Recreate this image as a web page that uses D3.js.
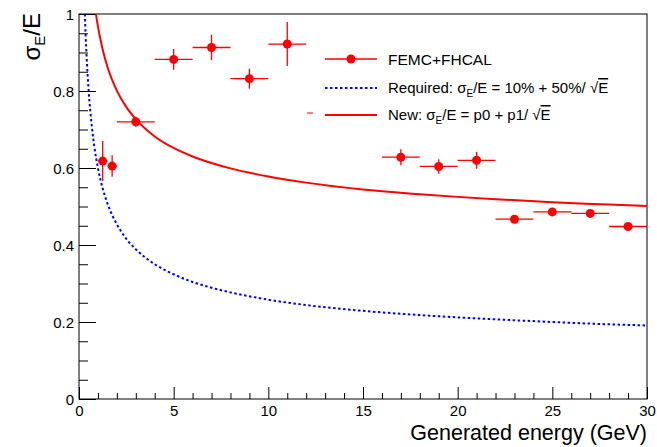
<!DOCTYPE html>
<html><head><meta charset="utf-8">
<script src="https://cdn.jsdelivr.net/npm/d3@7"></script>
<style>
body{margin:0;background:#fff;}
text{font-family:"Liberation Sans",Arial,Helvetica,sans-serif;fill:#000;}
</style></head>
<body>
<svg id="c" width="657" height="447"></svg>
<script>
// Data points: FEMC+FHCAL
const energy   = [1.25, 1.75, 3, 5, 7, 9, 11, 17, 19, 21, 23, 25, 27, 29];
const energyErr= [0.25, 0.25, 1, 1, 1, 1, 1, 1, 1, 1, 1, 1, 1, 1];
const resol    = [0.618, 0.605, 0.720, 0.882, 0.913, 0.832, 0.922, 0.628, 0.604, 0.620, 0.467, 0.486, 0.482, 0.448];
const resolErr = [0.052, 0.028, 0.013, 0.027, 0.033, 0.026, 0.057, 0.021, 0.019, 0.022, 0.007, 0.008, 0.007, 0.007];

// Required curve samples
const reqE   = [0.309, 0.35, 0.4, 0.5, 0.6, 0.7, 0.8, 1.0, 1.25, 1.5, 2, 2.5, 3, 4, 5, 6, 7, 8, 10, 12, 15, 18, 20, 22, 25, 28, 30];
const reqVal = [1.0, 0.945, 0.891, 0.807, 0.746, 0.698, 0.659, 0.600, 0.547, 0.508, 0.454, 0.416, 0.389, 0.350, 0.324, 0.304, 0.289, 0.277, 0.258, 0.244, 0.229, 0.218, 0.212, 0.207, 0.200, 0.194, 0.191];

// New fit curve samples
const fitE   = [0.9, 1.0, 1.25, 1.5, 2, 2.5, 3, 4, 5, 6, 7, 8, 10, 12, 15, 18, 20, 22, 25, 28, 30];
const fitVal = [0.999, 0.968, 0.908, 0.863, 0.801, 0.758, 0.727, 0.682, 0.652, 0.630, 0.613, 0.599, 0.578, 0.562, 0.544, 0.532, 0.525, 0.519, 0.511, 0.505, 0.501];

const xTicks = [0, 5, 10, 15, 20, 25, 30];
const yTicks = [0, 0.2, 0.4, 0.6, 0.8, 1];

const svg = d3.select("#c");
const L = 79, R = 647, T = 14, B = 399;
const x = d3.scaleLinear().domain([0, 30]).range([L, R]);
const y = d3.scaleLinear().domain([0, 1]).range([B, T]);

// frame
svg.append("rect").attr("x", L).attr("y", T).attr("width", R - L).attr("height", B - T)
  .attr("fill", "none").attr("stroke", "#000").attr("stroke-width", 1);

// x axis (minor ticks every 1, labelled major ticks every 5)
const xg = svg.append("g").attr("transform", `translate(0,${B})`);
xg.call(d3.axisBottom(x).tickValues(d3.range(0, 31, 1)).tickSize(0).tickFormat(""));
xg.select(".domain").remove();
xg.selectAll(".tick").append("line").attr("stroke", "#000")
  .attr("y1", 0).attr("y2", d => (xTicks.includes(d) ? -12 : -6));
xg.selectAll(".tick").filter(d => xTicks.includes(d)).append("text")
  .attr("y", 17).attr("text-anchor", "middle").attr("font-size", 15).text(d => d);

// y axis (minor ticks every 0.05, labelled major every 0.2)
const isMajorY = d => yTicks.some(t => Math.abs(t - d) < 1e-6);
const yg = svg.append("g").attr("transform", `translate(${L},0)`);
yg.call(d3.axisLeft(y).tickValues(d3.range(0, 20.5, 1).map(k => k * 0.05)).tickSize(0).tickFormat(""));
yg.select(".domain").remove();
yg.selectAll(".tick").append("line").attr("stroke", "#000")
  .attr("x1", 0).attr("x2", d => (isMajorY(d) ? 17 : 9));
yg.selectAll(".tick").filter(d => isMajorY(d)).append("text")
  .attr("x", -5).attr("dy", "0.35em").attr("text-anchor", "end").attr("font-size", 15)
  .text(d => d3.format("~g")(+d.toFixed(2)));

// curves
const lineGen = d3.line().x(d => x(d[0])).y(d => y(d[1])).curve(d3.curveMonotoneX);
svg.append("path").datum(reqE.map((e, i) => [e, reqVal[i]]))
  .attr("d", lineGen).attr("fill", "none").attr("stroke", "#0000ff")
  .attr("stroke-width", 2).attr("stroke-dasharray", "2.5,2.5");
svg.append("path").datum(fitE.map((e, i) => [e, fitVal[i]]))
  .attr("d", lineGen).attr("fill", "none").attr("stroke", "#ff0000").attr("stroke-width", 2);

// data points
const pts = svg.append("g");
energy.forEach((e, i) => {
  pts.append("line").attr("x1", x(e - energyErr[i])).attr("x2", x(e + energyErr[i]))
    .attr("y1", y(resol[i])).attr("y2", y(resol[i])).attr("stroke", "#ff0000").attr("stroke-width", 1.3);
  pts.append("line").attr("x1", x(e)).attr("x2", x(e))
    .attr("y1", y(resol[i] - resolErr[i])).attr("y2", y(resol[i] + resolErr[i]))
    .attr("stroke", "#ff0000").attr("stroke-width", 1.3);
});
pts.selectAll("circle").data(energy).join("circle")
  .attr("cx", d => x(d)).attr("cy", (d, i) => y(resol[i])).attr("r", 4.5).attr("fill", "#ff0000");

// legend
const lg = svg.append("g");
const lx1 = 325, lx2 = 377, tx = 388;
lg.append("line").attr("x1", lx1).attr("x2", lx2).attr("y1", 59).attr("y2", 59).attr("stroke", "#ff0000").attr("stroke-width", 1.3);
lg.append("circle").attr("cx", 351).attr("cy", 59).attr("r", 4.5).attr("fill", "#ff0000");
lg.append("text").attr("x", tx).attr("y", 65).attr("font-size", 15.5).text("FEMC+FHCAL");

lg.append("line").attr("x1", lx1).attr("x2", lx2).attr("y1", 88).attr("y2", 88).attr("stroke", "#0000ff").attr("stroke-width", 2).attr("stroke-dasharray", "2.5,2.5");
const t2 = lg.append("text").attr("x", tx).attr("y", 93).attr("font-size", 15);
t2.append("tspan").text("Required: σ");
t2.append("tspan").attr("font-size", 10).attr("dy", 4).text("E");
t2.append("tspan").attr("dy", -4).text("/E = 10% + 50%/ √");
t2.append("tspan").style("text-decoration", "overline").text("E");

lg.append("line").attr("x1", lx1).attr("x2", lx2).attr("y1", 115).attr("y2", 115).attr("stroke", "#ff0000").attr("stroke-width", 2);
lg.append("line").attr("x1", 307).attr("x2", 313).attr("y1", 113).attr("y2", 113).attr("stroke", "#ff0000").attr("stroke-width", 1);
const t3 = lg.append("text").attr("x", tx).attr("y", 120).attr("font-size", 15);
t3.append("tspan").text("New: σ");
t3.append("tspan").attr("font-size", 10).attr("dy", 4).text("E");
t3.append("tspan").attr("dy", -4).text("/E = p0 + p1/ √");
t3.append("tspan").style("text-decoration", "overline").text("E");

// axis titles
svg.append("text").attr("x", 647).attr("y", 440).attr("text-anchor", "end").attr("font-size", 21.5)
  .text("Generated energy (GeV)");
const yt = svg.append("text").attr("transform", "translate(40,13) rotate(-90)")
  .attr("text-anchor", "end").attr("font-size", 24);
yt.append("tspan").text("σ");
yt.append("tspan").attr("font-size", 15).attr("dy", 5).text("E");
yt.append("tspan").attr("dy", -5).text("/E");
</script>
</body></html>
